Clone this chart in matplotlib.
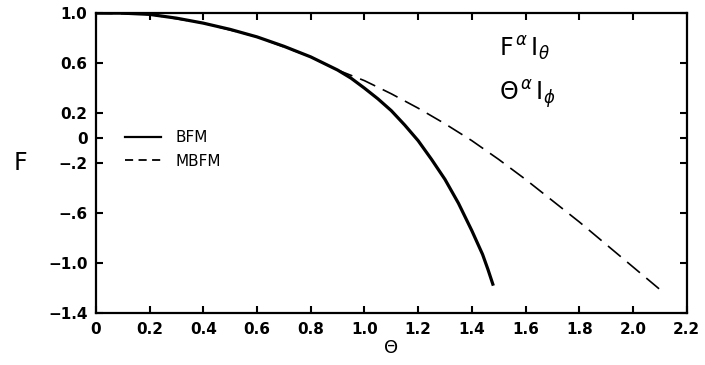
import matplotlib
matplotlib.use("Agg")
import matplotlib.pyplot as plt
from matplotlib.lines import Line2D

plt.rcParams['font.family'] = ['DejaVu Sans']
plt.rcParams['mathtext.fontset'] = 'dejavusans'

# BFM curve
bfm_theta = [0.0, 0.1, 0.2, 0.3, 0.4, 0.5, 0.6, 0.7, 0.8, 0.9, 0.95, 1.0, 1.05, 1.1, 1.15,
             1.2, 1.25, 1.3, 1.35, 1.4, 1.44, 1.46, 1.48]
bfm_f = [1.0, 1.0, 0.99, 0.96, 0.92, 0.87, 0.81, 0.735, 0.65, 0.545, 0.48, 0.40, 0.315, 0.22, 0.105,
         -0.02, -0.17, -0.33, -0.52, -0.74, -0.93, -1.05, -1.18]

# MBFM curve
mbfm_theta = [0.0, 0.2, 0.4, 0.6, 0.8, 0.9, 1.0, 1.1, 1.2, 1.3, 1.4, 1.5, 1.6, 1.7, 1.8, 1.9, 2.0, 2.1]
mbfm_f = [1.0, 0.99, 0.92, 0.81, 0.65, 0.545, 0.46, 0.355, 0.24, 0.115, -0.02, -0.17, -0.33, -0.50, -0.67, -0.85, -1.03, -1.21]

x_ticks = [0, 0.2, 0.4, 0.6, 0.8, 1.0, 1.2, 1.4, 1.6, 1.8, 2.0, 2.2]
x_labels = ['0', '0.2', '0.4', '0.6', '0.8', '1.0', '1.2', '1.4', '1.6', '1.8', '2.0', '2.2']
y_ticks = [1.0, 0.6, 0.2, 0, -0.2, -0.6, -1.0, -1.4]
y_labels = ['1.0', '0.6', '0.2', '0', '\u2212.2', '\u2212.6', '\u22121.0', '\u22121.4']

fig = plt.figure(figsize=(7.05, 3.65), dpi=100)
ax = fig.add_axes([0.136, 0.142, 0.838, 0.822])

ax.plot(mbfm_theta, mbfm_f, color='black', lw=1.2, dashes=(10, 5))
ax.plot(bfm_theta, bfm_f, color='black', lw=2.3, solid_capstyle='butt', solid_joinstyle='round')

ax.set_xlim(0, 2.2)
ax.set_ylim(-1.4, 1.0)
ax.set_xticks(x_ticks)
ax.set_xticklabels(x_labels)
ax.set_yticks(y_ticks)
ax.set_yticklabels(y_labels)
ax.tick_params(direction='in', length=5, width=1.5, top=True, right=True,
               labelsize=11, pad=6)
for lab in ax.get_xticklabels() + ax.get_yticklabels():
    lab.set_fontweight('bold')
for s in ax.spines.values():
    s.set_linewidth(1.6)

ax.set_xlabel('\u0398', fontsize=13, labelpad=2)
ax.set_ylabel('F', fontsize=17, rotation=0, labelpad=20, va='center')

handles = [Line2D([], [], color='black', lw=1.6),
           Line2D([], [], color='black', lw=1.3, dashes=(4.5, 3))]
ax.legend(handles, ['BFM', 'MBFM'], loc='upper left', bbox_to_anchor=(0.05, 0.61),
          frameon=False, fontsize=11, handlelength=2.3, handletextpad=1.0,
          labelspacing=0.55, borderpad=0, borderaxespad=0)

ax.text(1.50, 0.65, r'F$^{\,\alpha}\,$I$_{\theta}$', fontsize=17)
ax.text(1.50, 0.30, r'$\Theta^{\,\alpha}\,$I$_{\phi}$', fontsize=17)

fig.savefig('out.png', dpi=100)
